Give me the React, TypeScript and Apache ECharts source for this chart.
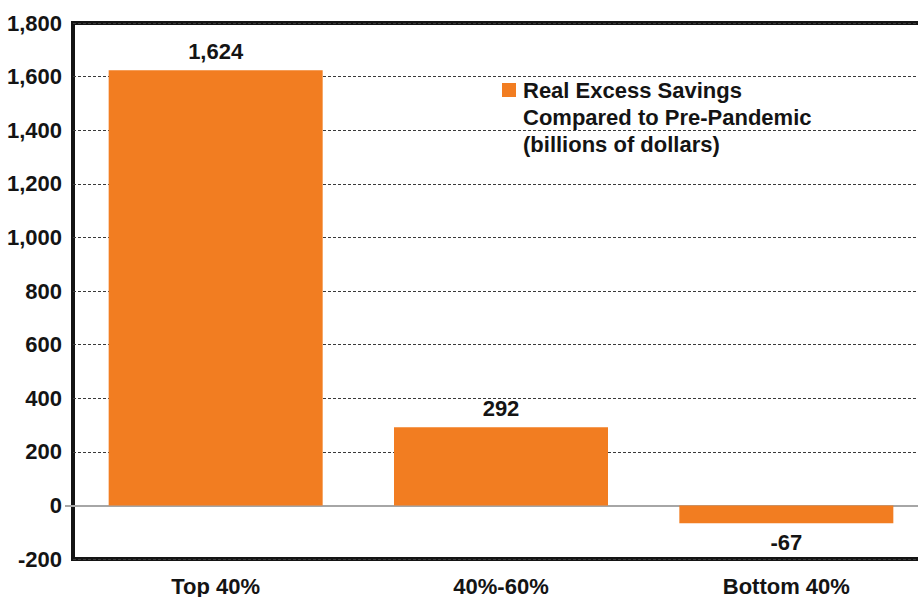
import React, { useEffect, useRef } from "react";
import * as echarts from "echarts";

// Real excess savings by income group (billions of dollars)
const categories = ["Top 40%", "40%-60%", "Bottom 40%"];
const savings = [1624, 292, -67];
const seriesName = "Real Excess Savings";
const seriesNote = ["Compared to Pre-Pandemic", "(billions of dollars)"];

const yMin = -200;
const yMax = 1800;
const yStep = 200;

const FONT = "'Liberation Sans', Arial, Helvetica, sans-serif";
const ORANGE = "#F27D21";
const INK = "#141414";
const ZERO = "#a6a6a6";
const FS = 22;

const fmt = (v: number) => v.toLocaleString("en-US");

export default function App() {
  const ref = useRef<HTMLDivElement>(null);

  useEffect(() => {
    if (!ref.current) return;
    const chart = echarts.init(ref.current, null, { renderer: "svg" });
    chart.setOption({
      animation: false,
      backgroundColor: "#ffffff",
      textStyle: { fontFamily: FONT },
      // the plot frame runs on past the right edge of the visible page
      grid: {
        left: 73,
        top: 23,
        width: 856,
        height: 538,
        show: true,
        borderColor: INK,
        borderWidth: 4,
        backgroundColor: "transparent",
        containLabel: false,
      },
      legend: {
        show: true,
        left: 497,
        top: 74,
        itemWidth: 14,
        itemHeight: 14,
        itemGap: 0,
        icon: "rect",
        selectedMode: false,
        textStyle: {
          fontFamily: FONT,
          fontWeight: "bold",
          fontSize: FS,
          color: INK,
          padding: [0, 0, 0, 2],
        },
      },
      graphic: [
        {
          type: "text",
          left: 523,
          top: 104,
          silent: true,
          style: {
            text: seriesNote.join("\n"),
            fontFamily: FONT,
            fontWeight: "bold",
            fontSize: FS,
            lineHeight: 27,
            fill: INK,
          },
        },
      ],
      xAxis: {
        type: "category",
        data: categories,
        axisLine: { show: true, onZero: true, lineStyle: { color: ZERO, width: 2 } },
        axisTick: { show: false },
        axisLabel: {
          show: true,
          margin: 16,
          fontFamily: FONT,
          fontWeight: "bold",
          fontSize: FS,
          color: INK,
        },
      },
      yAxis: [
        {
          type: "value",
          min: yMin,
          max: yMax,
          interval: yStep,
          axisLine: { show: false },
          axisTick: { show: false },
          axisLabel: {
            margin: 11,
            fontFamily: FONT,
            fontWeight: "bold",
            fontSize: FS,
            color: INK,
            formatter: fmt,
          },
          splitLine: {
            show: true,
            lineStyle: { color: "#3a3a3a", width: 1, type: [3, 2] },
          },
        },
        {
          // carries only the short outside tick at zero
          type: "value",
          position: "left",
          min: yMin,
          max: yMax,
          interval: yStep,
          axisLine: { show: false },
          axisLabel: { show: false },
          splitLine: { show: false },
          axisTick: {
            show: true,
            customValues: [0],
            length: 8,
            lineStyle: { color: ZERO, width: 2 },
          },
        },
      ],
      series: [
        {
          name: seriesName,
          type: "bar",
          barWidth: "75%",
          itemStyle: { color: ORANGE },
          data: savings.map((v) => ({
            value: v,
            label: { position: v < 0 ? "bottom" : "top" },
          })),
          label: {
            show: true,
            distance: 8,
            fontFamily: FONT,
            fontWeight: "bold",
            fontSize: FS,
            color: INK,
            formatter: (p: any) => fmt(Number(p.value)),
          },
        },
      ],
    });
    return () => chart.dispose();
  }, []);

  return (
    <div style={{ position: "fixed", left: 0, top: 0, width: 918, height: 597, overflow: "hidden" }}>
      <div ref={ref} style={{ width: 960, height: 597 }} />
    </div>
  );
}
